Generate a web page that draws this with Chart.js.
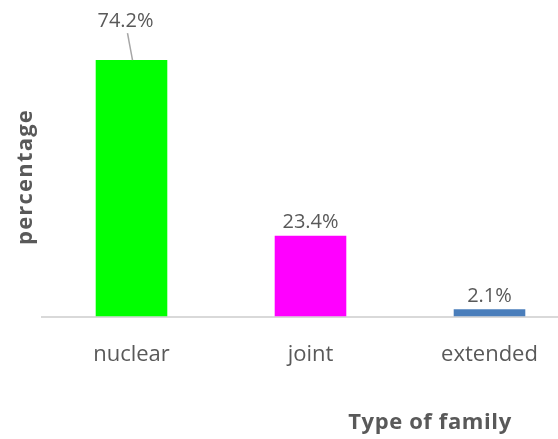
<!DOCTYPE html>
<html>
<head>
<meta charset="utf-8">
<script src="https://cdn.jsdelivr.net/npm/chart.js@4.4.1/dist/chart.umd.min.js"></script>
<style>
  html, body { margin: 0; padding: 0; background: #fff; }
  #wrap { width: 558px; height: 439px; overflow: hidden; position: relative; }
  #box { width: 600px; height: 439px; position: absolute; left: 0; top: 0; }
</style>
</head>
<body>
<div id="wrap"><div id="box"><canvas id="c"></canvas></div></div>
<script>
// Family type shares
const categories = ['nuclear', 'joint', 'extended'];
const shares = [74.2, 23.4, 2.1];
const barColors = ['#00ff00', '#ff00ff', '#4a7ebb'];
const xTitle = 'Type of family';
const yTitle = 'percentage';

const TEXT = '#595959';
const FONT = "'Open Sans', 'DejaVu Sans', sans-serif";

// value labels above bars (first one lifted with a leader line) + axis titles
const valueLabels = {
  id: 'valueLabels',
  afterDatasetsDraw(chart) {
    const ctx = chart.ctx;
    const meta = chart.getDatasetMeta(0);
    ctx.save();
    ctx.font = '20px ' + FONT;
    ctx.fillStyle = TEXT;
    ctx.textAlign = 'center';
    ctx.textBaseline = 'bottom';
    meta.data.forEach((bar, i) => {
      const txt = shares[i].toFixed(1) + '%';
      if (i === 0) {
        const lx = bar.x - 6, ly = bar.y - 29;
        ctx.fillText(txt, lx, ly);
        ctx.strokeStyle = '#a6a6a6';
        ctx.lineWidth = 1.5;
        ctx.beginPath();
        ctx.moveTo(lx + 2, ly + 2);
        ctx.lineTo(bar.x + 1, bar.y);
        ctx.stroke();
      } else {
        ctx.fillText(txt, bar.x, bar.y - 3);
      }
    });
    ctx.restore();
  },
  afterDraw(chart) {
    const ctx = chart.ctx;
    ctx.save();
    ctx.font = 'bold 22px ' + FONT;
    ctx.fillStyle = TEXT;
    ctx.letterSpacing = '0.6px';
    ctx.textAlign = 'center';
    ctx.textBaseline = 'middle';
    ctx.fillText(xTitle, 430, 423);
    ctx.translate(26, 177);
    ctx.rotate(-Math.PI / 2);
    ctx.letterSpacing = '1.2px';
    ctx.fillText(yTitle, 0, 0);
    ctx.restore();
  },
};

new Chart(document.getElementById('c'), {
  type: 'bar',
  data: {
    labels: categories,
    datasets: [{ data: shares, backgroundColor: barColors, borderWidth: 0, categoryPercentage: 0.4, barPercentage: 1 }],
  },
  options: {
    responsive: true,
    maintainAspectRatio: false,
    animation: false,
    layout: { padding: { left: 42, top: 10, right: 21, bottom: 54 } },
    plugins: { legend: { display: false }, tooltip: { enabled: false } },
    scales: {
      x: {
        grid: { display: false },
        border: { display: true, color: '#d9d9d9', width: 2 },
        ticks: { color: TEXT, font: { family: FONT, size: 22 }, padding: 17 },
      },
      y: {
        display: false,
        min: 0, max: 88.7,
      },
    },
  },
  plugins: [valueLabels],
});
</script>
</body>
</html>
